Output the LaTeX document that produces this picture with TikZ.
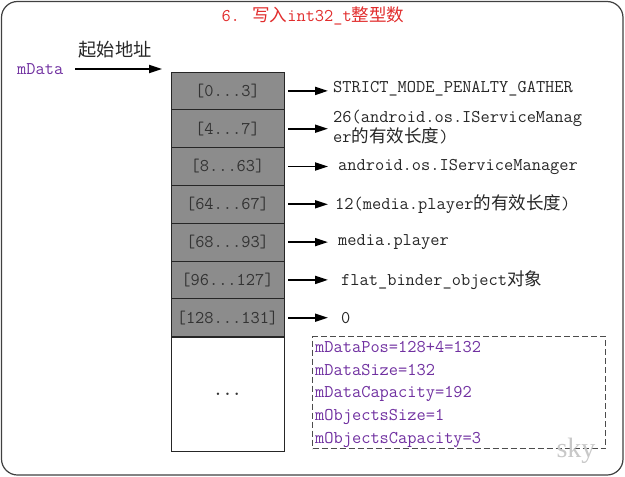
\documentclass[tikz,border=0pt]{standalone}
\usepackage{fontspec}
\newfontfamily\cjk[Scale=0.98]{Noto Sans CJK SC}
\newfontfamily\skyfont{Liberation Serif}
\newcommand{\zh}[1]{{\cjk #1}}
\usetikzlibrary{arrows.meta}
\definecolor{cellgray}{RGB}{140,140,140}
\definecolor{mpurple}{RGB}{112,48,160}
\definecolor{tred}{RGB}{225,45,45}
\definecolor{skygray}{RGB}{200,200,200}
\begin{document}
\begin{tikzpicture}[x=1pt,y=-1pt,
  mono/.style={font=\ttfamily\fontsize{17.9pt}{21pt}\selectfont},
  txt/.style={mono, text=black!85, inner sep=0pt, anchor=west},
  cell/.style={mono, draw=black!85, line width=0.8pt, fill=cellgray, minimum width=113pt, minimum height=37.8pt, inner sep=0pt, text=black!80},
  arr/.style={-{Triangle[length=13pt,width=8pt]}, line width=1.8pt, shorten <=4pt}]
\useasboundingbox (0,0) rectangle (625,477);
\draw[rounded corners=16pt, draw=black!75, line width=1.2pt] (1.5,1.5) rectangle (623,475);

% title
\node[mono, text=tred, inner sep=0pt] (title) at (313,16) {6. \zh{写入}int32\_t\zh{整型数}};

% start pointer
\node[font=\fontsize{18.6pt}{20pt}\selectfont, inner sep=0pt, text=black!85] (start) at (115,50) {\zh{起始地址}};
\node[txt, text=mpurple] (md) at (17,69) {mData};
\coordinate (mp) at (162,69);
\draw[arr, shorten <=12pt] (md.east) -- (mp);

% memory cells
\node[cell] (c1) at (227.5,90.9) {[0...3]};
\node[cell] (c2) at (227.5,128.7) {[4...7]};
\node[cell] (c3) at (227.5,166.5) {[8...63]};
\node[cell] (c4) at (227.5,204.3) {[64...67]};
\node[cell] (c5) at (227.5,242.1) {[68...93]};
\node[cell] (c6) at (227.5,279.9) {[96...127]};
\node[cell] (c7) at (227.5,317.7) {[128...131]};
\node[cell, fill=white, minimum height=113.4pt, font=\ttfamily\fontsize{17.9pt}{20pt}\selectfont\bfseries] (c8) at (227.5,394.3) {\raisebox{-3pt}{...}};

% labels
\node[txt] (l1) at (333,89) {STRICT\_MODE\_PENALTY\_GATHER};
\node[txt, align=left, font=\ttfamily\fontsize{17.9pt}{20pt}\selectfont] (l2) at (333,127) {26(android.os.IServiceManag\\er\zh{的有效长度})};
\node[txt] (l3) at (338,167) {android.os.IServiceManager};
\node[txt] (l4) at (335,204) {12(media.player\zh{的有效长度})};
\node[txt] (l5) at (338,242) {media.player};
\node[txt] (l6) at (341,280) {flat\_binder\_object\zh{对象}};
\node[txt] (l7) at (341,318) {0};

\draw[arr, shorten >=5pt] (c1.east) -- (c1.east -| l1.west);
\draw[arr, shorten >=5pt] (c2.east) -- (c2.east -| l2.west);
\draw[arr, shorten >=10pt] (c3.east) -- (c3.east -| l3.west);
\draw[arr, shorten >=7pt] (c4.east) -- (c4.east -| l4.west);
\draw[arr, shorten >=10pt] (c5.east) -- (c5.east -| l5.west);
\draw[arr, shorten >=13pt] (c6.east) -- (c6.east -| l6.west);
\draw[arr, shorten >=13pt] (c7.east) -- (c7.east -| l7.west);

% dashed info box
\node[draw=black!70, line width=1pt, dash pattern=on 6pt off 3pt, minimum width=293pt, minimum height=112pt, inner sep=0pt, anchor=north west] (dbox) at (312,336) {};
\node[inner sep=0pt, anchor=north west, align=left, text=mpurple, font=\ttfamily\fontsize{17.9pt}{22.7pt}\selectfont] (dtext) at (315,341) {mDataPos=128+4=132\\mDataSize=132\\mDataCapacity=192\\mObjectsSize=1\\mObjectsCapacity=3};

\node[text=skygray, font=\skyfont\fontsize{28pt}{30pt}\selectfont, inner sep=0pt] (sky) at (576,451) {sky};
\end{tikzpicture}
\end{document}
